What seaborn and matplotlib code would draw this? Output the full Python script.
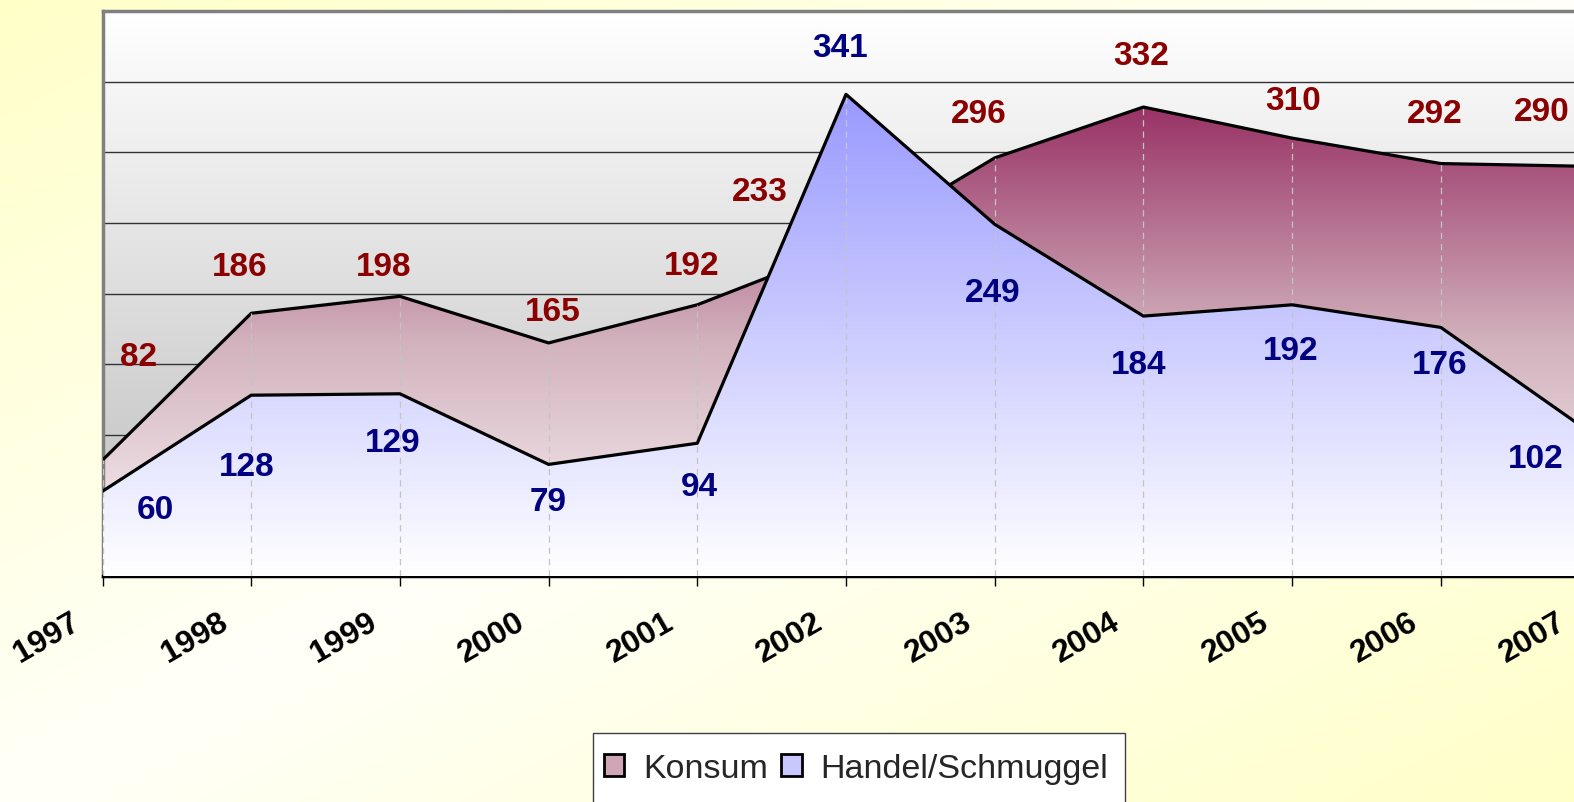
import numpy as np
import pandas as pd
import matplotlib
matplotlib.use("Agg")
import matplotlib.pyplot as plt
import matplotlib.transforms as mtransforms
from matplotlib.colors import LinearSegmentedColormap
from matplotlib.patches import Patch, Rectangle
import seaborn as sns

# Daten
years = [1997, 1998, 1999, 2000, 2001, 2002, 2003, 2004, 2005, 2006, 2007]
konsum = [82, 186, 198, 165, 192, 233, 296, 332, 310, 292, 290]
handel = [60, 128, 129, 79, 94, 341, 249, 184, 192, 176, 102]
names = ["Konsum", "Handel/Schmuggel"]

# Position der Beschriftungen relativ zum Punkt (Pixel)
konsum_offsets = [(36, 104), (-12, 47), (-16, 30), (4, 31), (-6, 39), (-86, 55),
                  (-16, 44), (-2, 52), (1, 38), (-6, 50), (-48, 55)]
handel_offsets = [(53, -18), (-5, -71), (-7, -49), (0, -37), (2, -43), (-6, 47),
                  (-2, -68), (-5, -48), (-1, -46), (-1, -37), (-54, -27)]

sns.set_theme(style="white")
plt.rcParams["font.family"] = ["Liberation Sans", "DejaVu Sans"]

df = pd.DataFrame({"Jahr": years, names[0]: konsum, names[1]: handel})

W, H = 1574, 803
fig = plt.figure(figsize=(W / 100, H / 100), dpi=100)

# Hintergrund: gelb in den Ecken oben links / unten rechts, weiss diagonal
bg = fig.add_axes([0, 0, 1, 1], zorder=-10)
gx, gy = np.meshgrid(np.linspace(0, 1, 400), np.linspace(0, 1, 200))
s = np.clip(np.abs(gx + gy - 1), 0, 1)[..., None]
white = np.array([255, 255, 248]) / 255
yellow = np.array([255, 255, 200]) / 255
bg.imshow(white * (1 - s) + yellow * s, aspect="auto", extent=[0, 1, 0, 1])
bg.axis("off")

ax = fig.add_axes([102.5 / W, 1 - 577 / H, (1589.5 - 102.5) / W, 565 / H])

# Plotfläche mit grauem Verlauf
gray = LinearSegmentedColormap.from_list("bg", ["#bcbcbc", "#ffffff"])
ax.imshow(np.linspace(1, 0, 256)[:, None], cmap=gray, vmin=0, vmax=1,
          extent=[years[0], years[-1], 0, 400], aspect="auto", zorder=0)


def gradient_area(x, y, colors, z):
    poly = ax.fill_between(x, 0, y, facecolor="none", edgecolor="none", zorder=z)
    cmap = LinearSegmentedColormap.from_list("g", colors)
    im = ax.imshow(np.linspace(1, 0, 256)[:, None], cmap=cmap, vmin=0, vmax=1,
                   extent=[x[0], x[-1], 0, max(y)], aspect="auto", zorder=z)
    im.set_clip_path(poly.get_paths()[0], transform=ax.transData)


gradient_area(years, konsum, ["#fbf6f7", "#d2b2bd", "#993366"], 2)
sns.lineplot(data=df, x="Jahr", y=names[0], color="black", lw=2.3, ax=ax, zorder=3)
gradient_area(years, handel, ["#ffffff", "#ccccff", "#9999ff"], 4)
ax.vlines(years, 0, np.maximum(konsum, handel), colors="#c4c4c4", linestyles=(0, (5, 4)),
          lw=0.9, zorder=5)
sns.lineplot(data=df, x="Jahr", y=names[1], color="black", lw=2.3, ax=ax, zorder=6)

for x, v, (dx, dy) in zip(years, konsum, konsum_offsets):
    ax.annotate(str(v), (x, v), xytext=(dx, dy), textcoords="offset pixels",
                ha="center", va="center", fontsize=24, fontweight="bold",
                color="#8b0000", zorder=8)
for x, v, (dx, dy) in zip(years, handel, handel_offsets):
    ax.annotate(str(v), (x, v), xytext=(dx, dy), textcoords="offset pixels",
                ha="center", va="center", fontsize=24, fontweight="bold",
                color="#000080", zorder=8)

ax.set_xlim(years[0], years[-1])
ax.set_ylim(0, 400)
ax.set_yticks(range(0, 401, 50))
ax.set_yticklabels([])
ax.yaxis.grid(True, color="#333333", lw=1)
ax.set_axisbelow(True)
ax.tick_params(axis="y", length=0)
ax.set_xlabel("")
ax.set_ylabel("")

ax.set_xticks(years)
ax.set_xticklabels([str(y) for y in years], rotation=30, ha="right", va="top",
                   fontsize=23, fontweight="bold", color="black")
ax.tick_params(axis="x", bottom=True, length=7, width=1, pad=15, color="black")
shift = mtransforms.ScaledTranslation(-18 / 100, 0, fig.dpi_scale_trans)
for lbl in ax.get_xticklabels():
    lbl.set_transform(lbl.get_transform() + shift)

for side in ["top", "left"]:
    ax.spines[side].set(color="#808080", lw=2.5)
ax.spines["bottom"].set(color="black", lw=2.5)
ax.spines["right"].set(color="#808080", lw=2.5)

# Legende
fig.add_artist(Rectangle((592.5 / W, -0.05), (1125 - 592.5) / W, (803 - 734) / H + 0.05,
                         transform=fig.transFigure, facecolor="white",
                         edgecolor="#404040", lw=1, zorder=3))
handles = [Patch(facecolor="#cfa6b6", edgecolor="black", lw=2, label=names[0]),
           Patch(facecolor="#c8c8ff", edgecolor="black", lw=2, label=names[1])]
fig.legend(handles=handles, loc="upper center", bbox_to_anchor=(856 / W, 1 - 727 / H),
           ncol=2, frameon=False, fontsize=24.5, handlelength=0.6, handleheight=0.6,
           handletextpad=0.55, columnspacing=0.4, borderpad=0.3)

fig.savefig("out.png", dpi=100)
